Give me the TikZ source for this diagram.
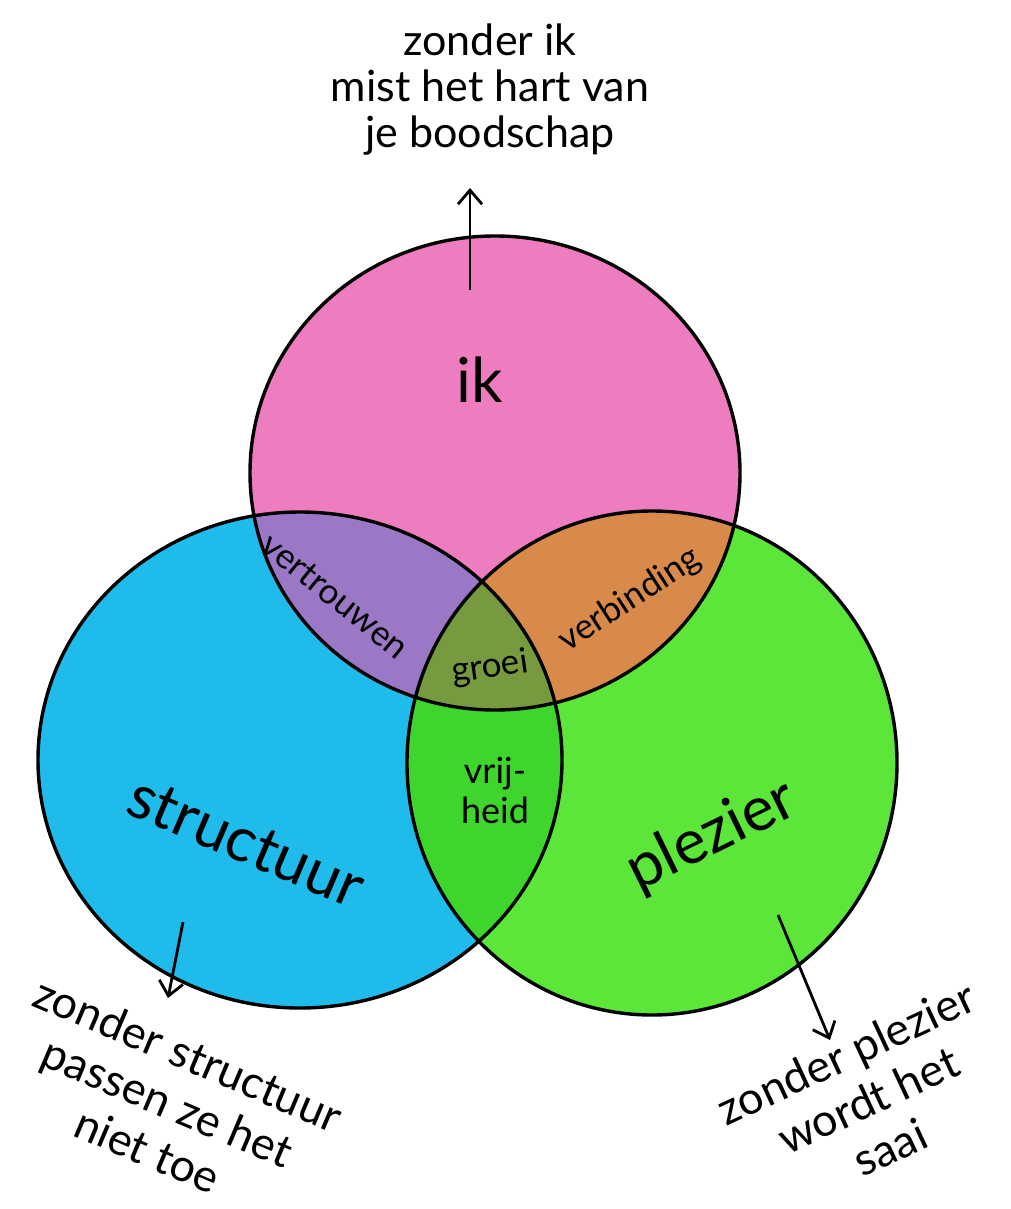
\documentclass[tikz,border=0pt]{standalone}
\usepackage{fontspec}
\setmainfont{Lato}
\usetikzlibrary{arrows.meta}
\definecolor{cpink}{HTML}{EE7DBF}
\definecolor{cblue}{HTML}{1FBCEB}
\definecolor{cgreen}{HTML}{5DE63A}
\definecolor{cpurple}{HTML}{9A78C6}
\definecolor{corange}{HTML}{D88A4A}
\definecolor{cdgreen}{HTML}{3ED62C}
\definecolor{colive}{HTML}{779A3E}
\begin{document}
\begin{tikzpicture}[x=1pt,y=1pt,
  rim/.style={line width=3.4pt, black},
  note/.style={font=\fontsize{43}{46}\selectfont, align=center, inner sep=0pt},
  noteb/.style={font=\fontsize{45}{52}\selectfont, align=center, inner sep=0pt},
  big/.style={font=\fontsize{62}{64}\selectfont, inner sep=0pt},
  mid/.style={font=\fontsize{35}{36}\selectfont, inner sep=0pt},
  arr/.style={line width=2.8pt, -{Straight Barb[length=14pt,width=24pt]}}
]
\useasboundingbox (0,0) rectangle (1010,-1209);
\fill[white] (0,0) rectangle (1010,-1209);

% base fills
\fill[cpink]  (495,-473) ellipse [x radius=245pt, y radius=237pt];
\fill[cblue]  (300,-760) ellipse [x radius=262pt, y radius=248pt];
\fill[cgreen] (652,-763) ellipse [x radius=245pt, y radius=252pt];

% pairwise overlaps
\begin{scope}
  \clip (495,-473) ellipse [x radius=245pt, y radius=237pt];
  \fill[cpurple] (300,-760) ellipse [x radius=262pt, y radius=248pt];
  \fill[corange] (652,-763) ellipse [x radius=245pt, y radius=252pt];
\end{scope}
\begin{scope}
  \clip (300,-760) ellipse [x radius=262pt, y radius=248pt];
  \fill[cdgreen] (652,-763) ellipse [x radius=245pt, y radius=252pt];
\end{scope}
% centre
\begin{scope}
  \clip (495,-473) ellipse [x radius=245pt, y radius=237pt];
  \clip (300,-760) ellipse [x radius=262pt, y radius=248pt];
  \fill[colive] (652,-763) ellipse [x radius=245pt, y radius=252pt];
\end{scope}

% outlines
\draw[rim] (495,-473) ellipse [x radius=245pt, y radius=237pt];
\draw[rim] (300,-760) ellipse [x radius=262pt, y radius=248pt];
\draw[rim] (652,-763) ellipse [x radius=245pt, y radius=252pt];

% circle labels
\node[big] (ik) at (480,-380) {ik};
\node[big, rotate=-23] (structuur) at (246,-842) {structuur};
\node[big, rotate=26] (plezier) at (712,-836) {plezier};

% overlap labels
\node[mid, rotate=-39] (vertrouwen) at (335,-596) {vertrouwen};
\node[mid, rotate=33] (verbinding) at (630,-600) {verbinding};
\node[mid, rotate=8] (groei) at (490,-668) {groei};
\node[mid, align=center, font=\fontsize{36}{40}\selectfont] (vrijheid) at (495,-790) {vrij-\\heid};

% notes
\node[note] (topnote) at (490,-90) {zonder ik\\mist het hart van\\je boodschap};
\node[noteb, rotate=-23] (leftnote) at (168,-1102) {zonder structuur\\passen ze het\\niet toe};
\node[noteb, rotate=25] (rightnote) at (868,-1100) {zonder plezier\\wordt het\\saai};

% arrows
\coordinate (a1s) at (470,-290);
\coordinate (a1e) at (470,-188);
\coordinate (a2s) at (183,-922);
\coordinate (a2e) at (168,-998);
\coordinate (a3s) at (778,-915);
\coordinate (a3e) at (830,-1040);
\draw[arr] (a1s) -- (a1e);
\draw[arr] (a2s) -- (a2e);
\draw[arr] (a3s) -- (a3e);
\end{tikzpicture}
\end{document}
